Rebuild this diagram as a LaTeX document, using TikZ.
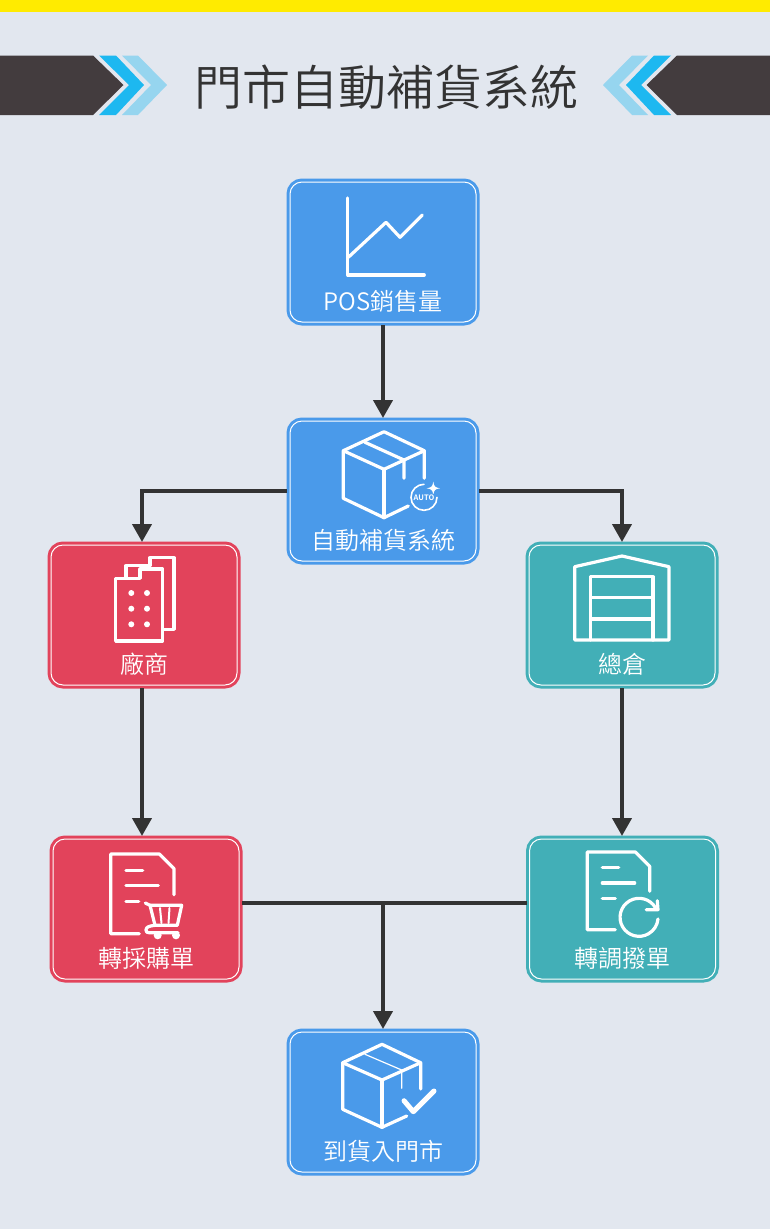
\documentclass[tikz,border=0pt]{standalone}
\usepackage{fontspec}
\usepackage{xcolor}
\usepackage{tikz}
\usetikzlibrary{arrows.meta}

\setmainfont{Noto Sans CJK TC DemiLight}

\definecolor{pagebg}{HTML}{E2E7EF}
\definecolor{topbar}{HTML}{FFEB00}
\definecolor{headdark}{HTML}{433C3E}
\definecolor{headblue}{HTML}{1DB8F0}
\definecolor{headlight}{HTML}{96D5EF}
\definecolor{inkdark}{HTML}{333333}
\definecolor{cardblue}{HTML}{4A9AEA}
\definecolor{cardred}{HTML}{E2435B}
\definecolor{cardteal}{HTML}{42AFB7}

\tikzset{
  card/.style={rectangle,rounded corners=12pt,draw=white,line width=1pt,fill=#1,
    preaction={draw=#1,line width=7pt},
    minimum width=186pt,minimum height=140pt,outer sep=3pt,inner sep=0pt,
    text=white,font=\fontsize{24pt}{24pt}\selectfont,text height=122pt,text depth=6pt},
  link/.style={line width=4pt,draw=inkdark},
  linkarrow/.style={link,-{Triangle[width=19pt,length=18pt]}},
  iconline/.style={draw=white,line width=3.2pt,line cap=round,line join=round},
  thinline/.style={draw=white,line width=1.2pt,line cap=round},
  chevrons/.pic={
    \fill[headdark] (0,55.5) -- (93,55.5) -- (123.5,85) -- (93,115) -- (0,115) -- cycle;
    \fill[headblue] (99,55.5) -- (116,55.5) -- (144,85) -- (116,115) -- (99,115) -- (129,85) -- cycle;
    \fill[headlight] (122,55.5) -- (138,55.5) -- (167,85) -- (138,115) -- (122,115) -- (151,85) -- cycle;
  }
}

\begin{document}
\begin{tikzpicture}[x=1pt,y=-1pt]
\useasboundingbox (0,0) rectangle (770,1229);
\fill[pagebg] (0,0) rectangle (770,1229);
\fill[topbar] (0,0) rectangle (770,11.5);

\pic at (0,0) {chevrons};
\pic[xscale=-1] at (770,0) {chevrons};
\node[text=inkdark,font=\fontsize{48pt}{48pt}\selectfont,inner sep=0pt] (title) at (386,87) {門市自動補貨系統};

\node[card=cardblue] (pos) at (383,252) {POS銷售量};
\node[card=cardblue] (auto) at (383,491) {自動補貨系統};
\node[card=cardred] (vendor) at (144,615) {廠商};
\node[card=cardteal] (depot) at (622,615) {總倉};
\node[card=cardred] (purchase) at (146,909) {轉採購單};
\node[card=cardteal] (transfer) at (622.5,909) {轉調撥單};
\node[card=cardblue] (arrival) at (383,1102) {到貨入門市};

\coordinate (merge) at (383,903);

\draw[linkarrow] (pos.south) -- (auto.north);
\draw[linkarrow] (auto.west) -| ([xshift=-2pt]vendor.north);
\draw[linkarrow] (auto.east) -| (depot.north);
\draw[linkarrow] ([xshift=-2pt]vendor.south) -- ([xshift=-4pt]purchase.north);
\draw[linkarrow] (depot.south) -- ([xshift=-0.5pt]transfer.north);
\draw[link] ([yshift=6pt]purchase.east) -- ([yshift=6pt]transfer.west);
\draw[linkarrow] (merge) -- (arrival.north);

\draw[iconline] (347.7,198) -- (347.7,275) -- (424.3,275);
\draw[iconline] (348.3,257.3) -- (386,222.3) -- (400,237.3) -- (422.3,215);

\draw[iconline] (424.3,478.3) -- (424.3,450.7) -- (384,431.7) -- (343.3,450.7) -- (343.3,498.3) -- (384,517.7) -- (408.3,506);
\draw[iconline] (343.3,450.7) -- (384,469.3) -- (424.3,450.7);
\draw[iconline] (384,469.3) -- (384,517.7);
\draw[iconline] (365,442.3) -- (404,460) -- (404,478.3);
\draw[white,line width=1.6pt,line cap=round] (424,484.3) arc[start angle=-90,end angle=-360,radius=13];
\fill[white] (433.3,481.5) .. controls (434,486.5) and (435,487.5) .. (440,488.3) .. controls (435,489) and (434,490) .. (433.3,495) .. controls (432.6,490) and (431.6,489) .. (426.6,488.3) .. controls (431.6,487.5) and (432.6,486.5) .. (433.3,481.5) -- cycle;
\node[fill=cardblue,text=white,inner sep=0.5pt,font=\fontsize{7.5pt}{7.5pt}\selectfont\bfseries] (autotag) at (424,497.7) {AUTO};

\draw[iconline] (126,576.7) -- (126,565.7) -- (150,565.7) -- (150,557.7) -- (174,557.7) -- (174,629.3) -- (164,629.3);
\draw[iconline] (115.7,578.3) -- (140,578.3) -- (140,569) -- (162.7,569) -- (162.7,641) -- (115.7,641) -- cycle;
\foreach \dotx in {131.3,147}
  \foreach \doty in {593,608.7,624.3}
    \fill[white] (\dotx,\doty) circle[radius=3];

\draw[iconline] (574.7,640) -- (574.7,566.7) -- (622,556) -- (669,566.7) -- (669,640) -- cycle;
\draw[iconline] (590.7,640) -- (590.7,576.7) -- (653,576.7) -- (653,640);
\draw[iconline] (590.7,597.7) -- (653,597.7);
\draw[iconline] (590.7,619) -- (653,619);

\draw[iconline] (139.3,933.7) -- (110.7,933.7) -- (110.7,854) -- (159.3,854) -- (174,868.7) -- (174,894.7);
\draw[iconline] (126,870.3) -- (142.7,870.3);
\draw[iconline] (126,885.7) -- (158.3,885.7);
\draw[iconline] (126,901.7) -- (138.7,901.7);
\draw[iconline] (145.3,903) -- (150,905.3) -- (155,925.3) .. controls (149,926) and (146,927) .. (146,930) .. controls (146,932) and (147,932.7) .. (149,932.7) -- (178,932.7);
\draw[iconline] (150,905.3) -- (181.7,905.3) -- (177.3,925.3) -- (155,925.3);
\draw[thinline,line width=2pt] (160,908) -- (161.5,923);
\draw[thinline,line width=2pt] (169.5,908) -- (168.5,923);
\fill[white] (157.7,935.3) circle[radius=4] (176,935.3) circle[radius=4];

\draw[iconline] (615.3,929.7) -- (587.3,929.7) -- (587.3,852) -- (635.3,852) -- (649.7,866.3) -- (649.7,891.3);
\draw[iconline] (602.3,867.3) -- (618.7,867.3);
\draw[iconline] (602.3,883) -- (634.7,883);
\draw[iconline] (602.3,898.3) -- (615.3,898.3);
\draw[iconline] (655.5,907.8) arc[start angle=-30,end angle=-355,radius=19];
\draw[iconline] (657.3,900.7) -- (658,909.7) -- (646.3,909.7);

\draw[iconline] (420.7,1089) -- (420.7,1062.7) -- (382,1044.3) -- (342.7,1062.7) -- (342.7,1109.3) -- (382,1127.3) -- (406.7,1116);
\draw[iconline] (342.7,1062.7) -- (382,1080) -- (420.7,1062.7);
\draw[iconline] (382,1080) -- (382,1127.3);
\draw[thinline] (365,1054.3) -- (401.7,1070) -- (401.7,1088.3);
\draw[iconline,line width=5pt] (404,1100.7) -- (413.3,1111.7) -- (434,1091);
\end{tikzpicture}
\end{document}
